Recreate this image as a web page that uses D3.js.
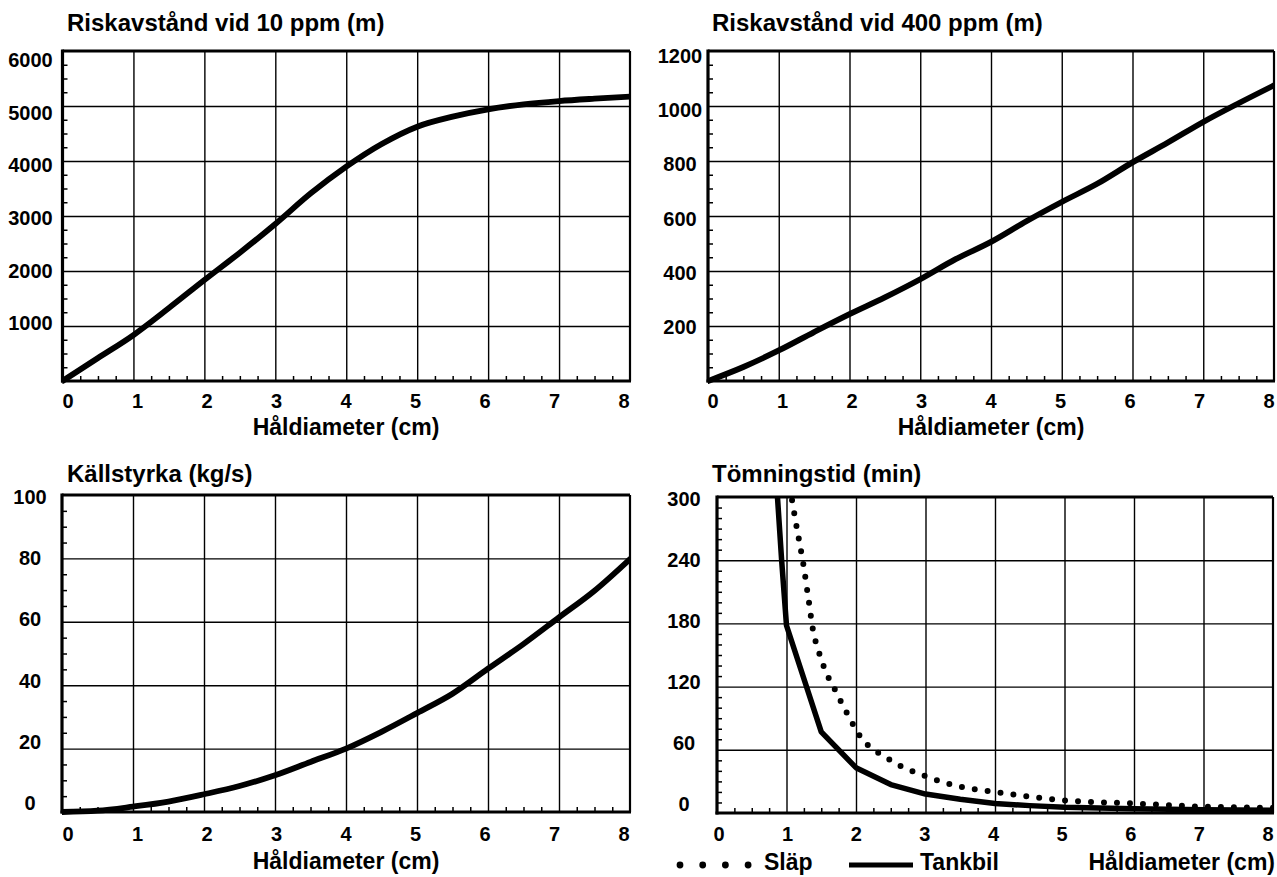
<!DOCTYPE html>
<html><head><meta charset="utf-8">
<script src="https://cdn.jsdelivr.net/npm/d3@7"></script>
<style>
html,body{margin:0;padding:0;background:#fff;}
svg{display:block;font-family:"Liberation Sans",Arial,Helvetica,sans-serif;font-weight:bold;}
</style></head><body>
<svg id="chart" width="1277" height="877"></svg>
<script>
// ---------- data ----------
const holeDiameter   = [0,0.5,1,1.5,2,2.5,3,3.5,4,4.5,5,5.5,6,6.5,7,7.5,8];
const risk10ppm      = [0,418,836,1327,1836,2333,2855,3412,3897,4309,4624,4806,4940,5030,5090,5133,5170];
const risk400ppm     = [0,51,111,178,243,304,370,443,506,581,651,717,795,867,942,1010,1075];
const sourceStrength = [0,0.4,1.7,3.3,5.6,8.2,11.6,15.8,20.0,25.3,31.2,37.3,45.2,53.0,61.4,69.8,79.8];
const tankbilX = [0.87,0.93,1.0,1.5,2.0,2.5,3.0,3.5,4.0,4.5,5.0,6.0,7.0,8.0];
const tankbilY = [300,240,178,77,43,27,18,13,9,7,5.5,4,3,2.5];
const slapX = [1.08,1.15,1.2,1.25,1.29,1.33,1.37,1.47,1.56,1.69,1.82,1.95,2.0,2.5,3.0,3.5,4.0,5.0,6.0,7.0,8.0];
const slapY = [297,270,252,233,215,197,178,152,135,118,101,85,79,50,35,25,20,12,9,6,5];
const xTickLabels   = ["0","1","2","3","4","5","6","7","8"];
const ticks10ppm    = [1000,2000,3000,4000,5000,6000];
const ticks400ppm   = [200,400,600,800,1000,1200];
const ticksSource   = [0,20,40,60,80,100];
const ticksTime     = [0,60,120,180,240,300];
const titles = ["Riskavstånd vid 10 ppm (m)","Riskavstånd vid 400 ppm (m)","Källstyrka (kg/s)","Tömningstid (min)"];
const xTitle = "Håldiameter (cm)";
const legendLabels = ["Släp","Tankbil"];

// ---------- drawing ----------
const svg = d3.select("#chart");
let clipId = 0;

function drawPanel(o){
  const g = svg.append("g");
  const x = d3.scaleLinear().domain([0,8]).range([o.x0,o.x1]);
  const y = d3.scaleLinear().domain([0,o.yMax]).range([o.yBot,o.yTop]);
  const w = o.x1-o.x0, h = o.yBot-o.yTop;

  // grid
  g.append("g").attr("transform",`translate(0,${o.yBot})`)
    .call(d3.axisBottom(x).tickValues(d3.range(1,8)).tickSize(-h).tickFormat(""))
    .call(s=>s.select(".domain").remove())
    .selectAll("line").attr("stroke","#000").attr("stroke-width",1.4);
  g.append("g").attr("transform",`translate(${o.x0},0)`)
    .call(d3.axisLeft(y).tickValues(d3.range(o.yStep,o.yMax,o.yStep)).tickSize(-w).tickFormat(""))
    .call(s=>s.select(".domain").remove())
    .selectAll("line").attr("stroke","#000").attr("stroke-width",1.4);

  // minor ticks
  const xMinor = d3.range(1,32).map(i=>i*0.25).filter(v=>v%1!==0);
  g.append("g").attr("transform",`translate(0,${o.yBot})`)
    .call(d3.axisBottom(x).tickValues(xMinor).tickSize(-5).tickFormat(""))
    .call(s=>s.select(".domain").remove())
    .selectAll("line").attr("stroke","#000").attr("stroke-width",1.5);
  const nMinor = Math.round(o.yMax/o.yMinor);
  const yMinor = d3.range(1,nMinor).map(i=>i*o.yMinor).filter(v=>Math.abs(v/o.yStep-Math.round(v/o.yStep))>1e-6);
  g.append("g").attr("transform",`translate(${o.x0},0)`)
    .call(d3.axisLeft(y).tickValues(yMinor).tickSize(-5).tickFormat(""))
    .call(s=>s.select(".domain").remove())
    .selectAll("line").attr("stroke","#000").attr("stroke-width",1.5);

  // frame
  g.append("line").attr("x1",o.x0).attr("x2",o.x1).attr("y1",o.yTop).attr("y2",o.yTop).attr("stroke","#000").attr("stroke-width",2.8);
  g.append("line").attr("x1",o.x1).attr("x2",o.x1).attr("y1",o.yTop).attr("y2",o.yBot).attr("stroke","#000").attr("stroke-width",2.2);
  g.append("line").attr("x1",o.x0).attr("x2",o.x0).attr("y1",o.yTop-1.5).attr("y2",o.yBot+1.5).attr("stroke","#000").attr("stroke-width",3.2);
  g.append("line").attr("x1",o.x0-1.5).attr("x2",o.x1+1).attr("y1",o.yBot).attr("y2",o.yBot).attr("stroke","#000").attr("stroke-width",3.2);

  // tick labels
  const xl = d3.scaleLinear().domain([0,8]).range(o.xLab);
  g.selectAll(".xl").data(xTickLabels).join("text")
    .attr("x",(d,i)=>xl(i)).attr("y",o.xLabY)
    .attr("text-anchor","middle").attr("dominant-baseline","central")
    .attr("font-size",20).text(d=>d);
  const yl = d3.scaleLinear().domain([0,o.yMax]).range(o.yLab);
  g.selectAll(".yl").data(o.yTicks).join("text")
    .attr("x",o.yLabX).attr("y",d=>yl(d))
    .attr("text-anchor","middle").attr("dominant-baseline","central")
    .attr("font-size",20).text(d=>d);

  // titles
  g.append("text").attr("x",o.titleX).attr("y",o.titleY).attr("dominant-baseline","central")
    .attr("font-size",24).text(o.title);
  g.append("text").attr("x",o.xTitleX).attr("y",o.xTitleY).attr("dominant-baseline","central")
    .attr("text-anchor",o.xTitleAnchor||"middle").attr("font-size",23).text(xTitle);

  // clip
  const cid = "clip"+(clipId++);
  svg.append("clipPath").attr("id",cid).append("rect")
    .attr("x",o.x0).attr("y",o.yTop).attr("width",w).attr("height",h+3);
  const cg = g.append("g").attr("clip-path",`url(#${cid})`);
  o.series.forEach(s=>{
    const pts = s.xs.map((v,i)=>[v,s.ys[i]]);
    const line = d3.line().x(d=>x(d[0])).y(d=>y(d[1])).curve(s.curve||d3.curveMonotoneX);
    const p = cg.append("path").attr("d",line(pts)).attr("fill","none")
      .attr("stroke","#000").attr("stroke-width",s.width||5)
      .attr("stroke-linejoin","round").attr("stroke-linecap","round");
    if(s.dotted) p.attr("stroke-dasharray","0 13");
  });
  return {x,y,g};
}

drawPanel({x0:62.5,x1:630,yTop:51,yBot:381,yMax:6000,yStep:1000,yMinor:250,
  yTicks:ticks10ppm,yLab:[376,60],yLabX:30.5,xLab:[68,624],xLabY:401,
  title:titles[0],titleX:67,titleY:22,xTitleX:346,xTitleY:427,
  series:[{xs:holeDiameter,ys:risk10ppm,width:5.8}]});

drawPanel({x0:708,x1:1274,yTop:51,yBot:381,yMax:1200,yStep:200,yMinor:50,
  yTicks:ticks400ppm,yLab:[381,56],yLabX:680,xLab:[713,1269],xLabY:401,
  title:titles[1],titleX:712,titleY:22,xTitleX:991,xTitleY:427,
  series:[{xs:holeDiameter,ys:risk400ppm,width:5.8}]});

drawPanel({x0:62,x1:630,yTop:495,yBot:812,yMax:100,yStep:20,yMinor:5,
  yTicks:ticksSource,yLab:[803,497],yLabX:30,xLab:[68,624],xLabY:834,
  title:titles[2],titleX:67,titleY:473,xTitleX:346,xTitleY:861,
  series:[{xs:holeDiameter,ys:sourceStrength,width:5.8}]});

drawPanel({x0:717,x1:1273,yTop:497,yBot:813,yMax:300,yStep:60,yMinor:10,
  yTicks:ticksTime,yLab:[804,499],yLabX:684,xLab:[719,1268],xLabY:834,
  title:titles[3],titleX:712,titleY:473,xTitleX:1275,xTitleY:862,xTitleAnchor:"end",
  series:[{xs:slapX,ys:slapY,width:6,dotted:true},
          {xs:tankbilX,ys:tankbilY,width:5.5,curve:d3.curveLinear}]});

// legend
const lg = svg.append("g");
lg.selectAll("circle").data(d3.range(4)).join("circle")
  .attr("cx",d=>680+d*22.7).attr("cy",865).attr("r",3.4).attr("fill","#000");
lg.append("text").attr("x",764).attr("y",862).attr("dominant-baseline","central").attr("font-size",23).text(legendLabels[0]);
lg.append("line").attr("x1",849).attr("x2",913).attr("y1",865).attr("y2",865).attr("stroke","#000").attr("stroke-width",5);
lg.append("text").attr("x",920).attr("y",862).attr("dominant-baseline","central").attr("font-size",23).text(legendLabels[1]);
</script>
</body></html>
